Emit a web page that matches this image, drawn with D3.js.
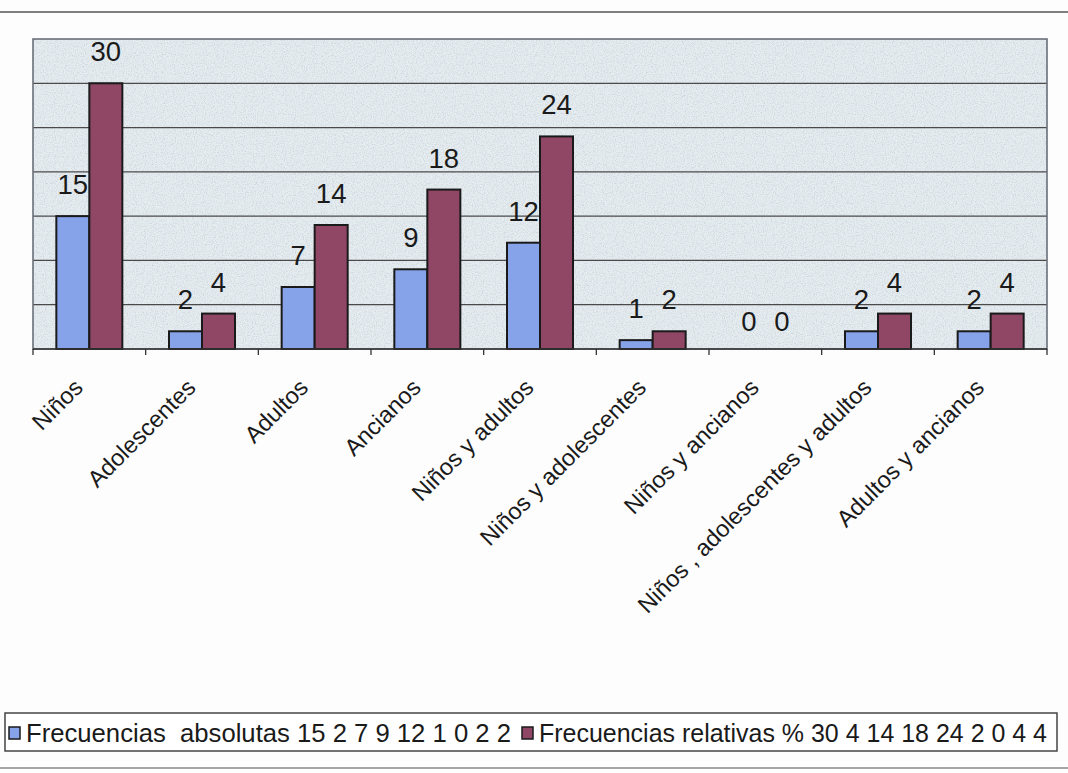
<!DOCTYPE html>
<html>
<head>
<meta charset="utf-8" />
<script src="https://cdn.jsdelivr.net/npm/d3@7"></script>
<style>
  body { margin: 0; background: #fdfdfd; }
  svg { display: block; font-family: Arial, "Liberation Sans", sans-serif; }
</style>
</head>
<body>
<svg id="chart"></svg>
<script>
// data
var categories = ['Niños', 'Adolescentes', 'Adultos', 'Ancianos', 'Niños y adultos',
                  'Niños y adolescentes', 'Niños y ancianos', 'Niños , adolescentes y adultos', 'Adultos y ancianos'];
var absolutas = [15, 2, 7, 9, 12, 1, 0, 2, 2];
var relativas = [30, 4, 14, 18, 24, 2, 0, 4, 4];
var seriesNames = ['Frecuencias  absolutas', 'Frecuencias relativas %'];
var gridTicks = [0, 5, 10, 15, 20, 25, 30, 35];

var width = 1068, height = 773;
var plot = {left: 33, right: 1047, top: 39, bottom: 349};
var colors = ['#86a3ea', '#904766'];

var svg = d3.select('#chart').attr('width', width).attr('height', height);

// speckled scan texture for the plot area
var defs = svg.append('defs');
var f = defs.append('filter').attr('id', 'speckle').attr('x', 0).attr('y', 0).attr('width', 1).attr('height', 1);
f.append('feTurbulence').attr('type', 'fractalNoise').attr('baseFrequency', 0.9).attr('numOctaves', 2).attr('seed', 4).attr('result', 'n');
f.append('feColorMatrix').attr('in', 'n').attr('type', 'matrix')
  .attr('values', '0 0 0 0 0.45  0 0 0 0 0.5  0 0 0 0 0.55  0 0 0 -2.2 1.25');
f.append('feComposite').attr('in2', 'SourceGraphic').attr('operator', 'in');

// scan edges
svg.append('line').attr('x1', 0).attr('x2', width).attr('y1', 12).attr('y2', 12)
  .attr('stroke', '#555').attr('stroke-width', 1.5);
svg.append('line').attr('x1', 0).attr('x2', width).attr('y1', 768).attr('y2', 768)
  .attr('stroke', '#888').attr('stroke-width', 1.5);

var x = d3.scaleBand().domain(categories).range([plot.left, plot.right]).padding(0);
var inner = d3.scaleBand().domain([0, 1]).range([0, 66]);
var groupOffset = (x.bandwidth() - 66) / 2;
var y = d3.scaleLinear().domain([0, 35]).range([plot.bottom, plot.top]);

svg.append('rect').attr('x', plot.left).attr('y', plot.top)
  .attr('width', plot.right - plot.left).attr('height', plot.bottom - plot.top)
  .attr('fill', '#e6edf1');
svg.append('rect').attr('x', plot.left).attr('y', plot.top)
  .attr('width', plot.right - plot.left).attr('height', plot.bottom - plot.top)
  .attr('fill', '#fff').attr('filter', 'url(#speckle)').attr('opacity', 0.55);

// gridlines
svg.append('g').selectAll('line').data(gridTicks.filter(function(d) { return d > 0 && d < 35; }))
  .enter().append('line')
  .attr('x1', plot.left).attr('x2', plot.right)
  .attr('y1', function(d) { return y(d); }).attr('y2', function(d) { return y(d); })
  .attr('stroke', '#4a4a4a').attr('stroke-width', 1.3);

// plot border
svg.append('rect').attr('x', plot.left).attr('y', plot.top)
  .attr('width', plot.right - plot.left).attr('height', plot.bottom - plot.top)
  .attr('fill', 'none').attr('stroke', '#6a6f78').attr('stroke-width', 1.6);

// bars
var series = [absolutas, relativas];
series.forEach(function(vals, s) {
  svg.append('g').selectAll('rect').data(vals).enter().append('rect')
    .attr('x', function(d, i) { return x(categories[i]) + groupOffset + inner(s); })
    .attr('y', function(d) { return y(d); })
    .attr('width', inner.bandwidth())
    .attr('height', function(d) { return y(0) - y(d); })
    .attr('fill', colors[s])
    .attr('stroke', '#1a1a1a')
    .attr('stroke-width', function(d) { return d > 0 ? 2 : 0; });

  svg.append('g').selectAll('text').data(vals).enter().append('text')
    .attr('x', function(d, i) { return x(categories[i]) + groupOffset + inner(s) + inner.bandwidth() / 2; })
    .attr('y', function(d) { return y(d) - (d > 0 ? 22 : 18); })
    .attr('text-anchor', 'middle')
    .attr('font-size', 27.5)
    .attr('fill', '#1a1a1a')
    .text(function(d) { return d; });
});

// x axis with ticks between categories
var xAxis = svg.append('g');
xAxis.append('line').attr('x1', plot.left).attr('x2', plot.right)
  .attr('y1', plot.bottom).attr('y2', plot.bottom).attr('stroke', '#333').attr('stroke-width', 1.6);
xAxis.selectAll('line.tick').data(d3.range(categories.length + 1)).enter().append('line')
  .attr('class', 'tick')
  .attr('x1', function(i) { return plot.left + i * x.step(); })
  .attr('x2', function(i) { return plot.left + i * x.step(); })
  .attr('y1', plot.bottom).attr('y2', plot.bottom + 6)
  .attr('stroke', '#333').attr('stroke-width', 1.3);

xAxis.selectAll('text').data(categories).enter().append('text')
  .attr('transform', function(d) {
    return 'translate(' + (x(d) + x.bandwidth() / 2 - 5) + ',' + 389 + ') rotate(-45)';
  })
  .attr('text-anchor', 'end')
  .attr('font-size', 23.5)
  .attr('fill', '#1a1a1a')
  .text(function(d) { return d; });

// legend: two entries, text squeezed to the widths seen in the scan
var legend = svg.append('g');
legend.append('rect').attr('x', 5).attr('y', 713).attr('width', 1052).attr('height', 38)
  .attr('fill', '#fff').attr('stroke', '#444').attr('stroke-width', 1.5);
var legendX = [9, 522], legendW = [485, 508];
series.forEach(function(vals, s) {
  legend.append('rect').attr('x', legendX[s]).attr('y', 727).attr('width', 11).attr('height', 12)
    .attr('fill', colors[s]).attr('stroke', '#1a1a1a').attr('stroke-width', 1.5);
  legend.append('text').attr('x', legendX[s] + 17).attr('y', 742)
    .attr('font-size', 25.8).attr('fill', '#1a1a1a')
    .attr('xml:space', 'preserve')
    .attr('textLength', legendW[s]).attr('lengthAdjust', 'spacingAndGlyphs')
    .text(seriesNames[s] + ' ' + vals.join(' '));
});
</script>
</body>
</html>
